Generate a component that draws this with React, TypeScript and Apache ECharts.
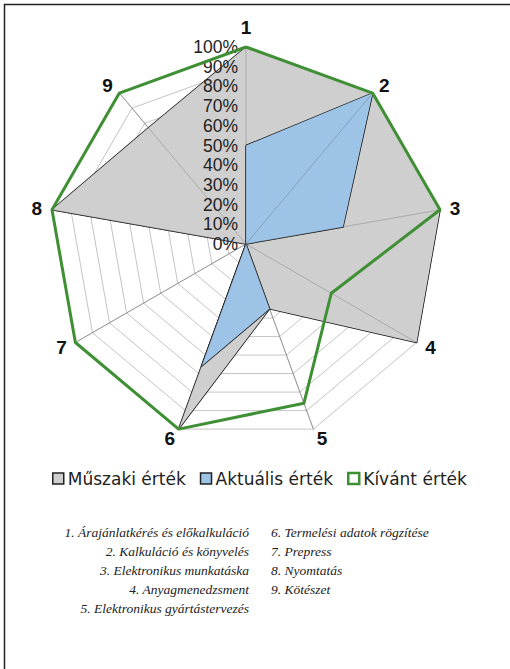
import React, { useEffect, useRef } from "react";
import * as echarts from "echarts";

const axisNames = ["1", "2", "3", "4", "5", "6", "7", "8", "9"];
const muszaki = [100, 100, 100, 100, 35, 100, 0, 100, 77];
const aktualis = [50, 100, 50, 0, 35, 66, 0, 0, 0];
const kivant = [100, 100, 100, 50, 86, 100, 100, 100, 100];
const seriesNames = ["Műszaki érték", "Aktuális érték", "Kívánt érték"];
const leftNotes = [
  "1. Árajánlatkérés és előkalkuláció",
  "2. Kalkuláció és könyvelés",
  "3. Elektronikus munkatáska",
  "4. Anyagmenedzsment",
  "5. Elektronikus gyártástervezés",
];
const rightNotes = [
  "6. Termelési adatok rögzítése",
  "7. Prepress",
  "8. Nyomtatás",
  "9. Kötészet",
];

// display order: ECharts places indicators counter-clockwise, so reverse after first
const order = [0, 8, 7, 6, 5, 4, 3, 2, 1];
const reorder = (arr: any[]) => order.map((i) => arr[i]);

export default function App() {
  const ref = useRef<HTMLDivElement>(null);
  useEffect(() => {
    const chart = echarts.init(ref.current!, null, { renderer: "svg" });
    const indicators = reorder(axisNames).map((n: string) => ({ name: n, min: 0, max: 100 }));
    const text = (t: string, x: number, y: number, align: string) => ({
      type: "text",
      x,
      y,
      style: {
        text: t,
        align,
        verticalAlign: "middle",
        font: "italic 13.5px 'Liberation Serif', 'Times New Roman', serif",
        fill: "#222",
      },
    });
    const graphics: any[] = [
      {
        type: "polyline",
        shape: { points: [[4.5, 700], [4.5, 4.5], [520, 4.5]] },
        style: { stroke: "#222", lineWidth: 1.5, fill: "none" },
      },
      ...leftNotes.map((t, i) => text(t, 249, 532 + i * 19, "right")),
      ...rightNotes.map((t, i) => text(t, 271, 532 + i * 19, "left")),
    ];
    chart.setOption({
      animation: false,
      radar: {
        center: [246, 244],
        radius: 197,
        startAngle: 90,
        shape: "polygon",
        splitNumber: 10,
        indicator: indicators,
        axisName: {
          color: "#111",
          fontSize: 19,
          fontWeight: "bold",
          fontFamily: "Liberation Sans, Arial",
        },
        nameGap: 10,
        axisLine: { lineStyle: { color: "#999", width: 0.8 } },
        splitLine: { lineStyle: { color: "#b5b5b5", width: 0.8 } },
        splitArea: { show: false },
        axisTick: { show: false },
        axisLabel: { show: false },
      },
      polar: { center: [246, 244], radius: 197 },
      angleAxis: {
        type: "value",
        min: 0,
        max: 360,
        interval: 40,
        startAngle: 90,
        z: 5,
        axisLine: { show: false },
        axisTick: { show: false },
        axisLabel: { show: false },
        splitLine: { show: true, lineStyle: { color: "rgba(90,90,90,0.45)", width: 0.7 } },
      },
      radiusAxis: {
        type: "value",
        min: 0,
        max: 100,
        interval: 10,
        z: 6,
        axisLine: { show: false },
        axisTick: { show: false },
        splitLine: { show: false },
        axisLabel: {
          formatter: "{value}%",
          fontSize: 17.5,
          fontFamily: "Liberation Sans, Arial",
          color: "#222",
          margin: 8,
        },
      },
      legend: {
        left: 47,
        top: 465,
        itemWidth: 11,
        itemHeight: 11,
        itemGap: 14,
        icon: "rect",
        textStyle: { fontFamily: "DejaVu Sans", fontSize: 17, color: "#222", padding: [0, 0, 0, -1] },
        data: [
          { name: seriesNames[0], itemStyle: { color: "#d0cfcf", borderColor: "#222", borderWidth: 1.5 } },
          { name: seriesNames[1], itemStyle: { color: "#9dc3e6", borderColor: "#222", borderWidth: 1.5 } },
          { name: seriesNames[2], itemStyle: { color: "#fff", borderColor: "#3f8f35", borderWidth: 2.5 } },
        ],
      },
      graphic: graphics,
      series: [
        {
          type: "radar",
          symbol: "none",
          data: [
            {
              name: seriesNames[0],
              value: reorder(muszaki),
              areaStyle: { color: "#d0cfcf", opacity: 1 },
              lineStyle: { color: "#111", width: 1.5 },
              itemStyle: { color: "#d0cfcf" },
            },
          ],
        },
        {
          type: "radar",
          symbol: "none",
          data: [
            {
              name: seriesNames[1],
              value: reorder(aktualis),
              areaStyle: { color: "#9dc3e6", opacity: 1 },
              lineStyle: { color: "#111", width: 1.5 },
              itemStyle: { color: "#9dc3e6" },
            },
          ],
        },
        {
          type: "radar",
          symbol: "none",
          z: 8,
          data: [
            {
              name: seriesNames[2],
              value: reorder(kivant),
              lineStyle: { color: "#3f8f35", width: 3 },
              itemStyle: { color: "#3f8f35" },
            },
          ],
        },
      ],
    });
    return () => chart.dispose();
  }, []);
  return (
    <div
      ref={ref}
      style={{ position: "fixed", left: 0, top: 0, width: 510, height: 669, background: "#fff" }}
    />
  );
}
